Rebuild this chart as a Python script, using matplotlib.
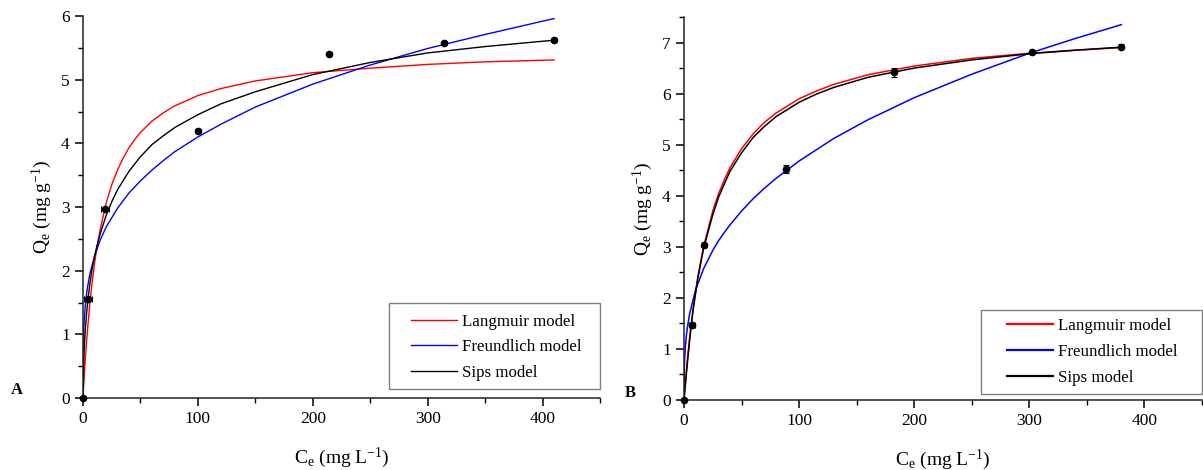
import matplotlib
matplotlib.use('Agg')
import matplotlib.pyplot as plt
from matplotlib.patches import Rectangle
from matplotlib.ticker import MultipleLocator

plt.rcParams['font.family'] = ['Liberation Serif', 'DejaVu Serif']
plt.rcParams['mathtext.fontset'] = 'custom'
plt.rcParams['mathtext.rm'] = 'Liberation Serif'
plt.rcParams['mathtext.it'] = 'Liberation Serif:italic'

# ---- panel A data ----
ce_a = [0, 4, 19, 100, 214, 314, 410]
qe_a = [0, 1.55, 2.97, 4.19, 5.41, 5.57, 5.62]
xerr_a = [0, 3.5, 3.5, 0, 0, 0, 0]
yerr_a = [0, 0, 0, 0.03, 0.03, 0.03, 0.03]

c_lang_a = [0, 0.5, 1, 2, 3, 4, 6, 8, 10, 12, 15, 20, 25, 30, 35, 40, 45, 50, 60, 70, 80,
            100, 120, 150, 200, 250, 300, 350, 410]
q_lang_a = [0, 0.17, 0.32, 0.61, 0.86, 1.09, 1.49, 1.82, 2.11, 2.35, 2.65, 3.05, 3.35,
            3.58, 3.77, 3.93, 4.06, 4.17, 4.35, 4.48, 4.59, 4.75, 4.86, 4.98, 5.11, 5.18,
            5.24, 5.28, 5.31]

c_freu_a = [0, 0.02, 0.1, 0.5, 1, 2, 3, 4, 6, 10, 15, 20, 30, 40, 50, 60, 70, 80, 100,
            120, 150, 200, 250, 300, 350, 410]
q_freu_a = [0, 0.43, 0.66, 1.01, 1.21, 1.45, 1.62, 1.75, 1.95, 2.23, 2.48, 2.68, 2.98,
            3.22, 3.41, 3.58, 3.73, 3.87, 4.10, 4.30, 4.57, 4.93, 5.23, 5.49, 5.71, 5.96]

c_sips_a = [0, 0.5, 1, 2, 3, 4, 6, 8, 10, 12, 15, 20, 25, 30, 40, 50, 60, 70, 80, 100,
            120, 150, 200, 250, 300, 350, 410]
q_sips_a = [0, 0.45, 0.75, 1.08, 1.30, 1.50, 1.80, 2.03, 2.22, 2.38, 2.58, 2.86, 3.08,
            3.27, 3.56, 3.79, 3.98, 4.12, 4.25, 4.45, 4.62, 4.81, 5.08, 5.27, 5.42, 5.52,
            5.62]

# ---- panel B data ----
ce_b = [0, 7.2, 17.4, 89, 182, 302, 380]
qe_b = [0, 1.46, 3.03, 4.53, 6.42, 6.81, 6.92]
xerr_b = [0, 2.5, 2, 0, 0, 0, 0]
yerr_b = [0, 0.03, 0.03, 0.08, 0.09, 0.03, 0.05]

c_lang_b = [0, 1, 2, 3, 5, 8, 12, 17, 25, 30, 35, 40, 50, 60, 70, 80, 100, 115, 130, 160,
            200, 250, 300, 340, 380]
q_lang_b = [0, 0.29, 0.55, 0.80, 1.24, 1.80, 2.41, 3.00, 3.70, 4.04, 4.31, 4.55, 4.92,
            5.21, 5.44, 5.62, 5.90, 6.05, 6.18, 6.37, 6.54, 6.69, 6.79, 6.85, 6.90]

c_freu_b = [0, 0.02, 0.1, 0.5, 1, 2, 3, 5, 10, 17, 25, 30, 35, 40, 50, 60, 70, 80, 100,
            130, 160, 200, 250, 300, 340, 380]
q_freu_b = [0, 0.26, 0.45, 0.78, 0.99, 1.25, 1.43, 1.70, 2.15, 2.57, 2.93, 3.12, 3.28,
            3.43, 3.70, 3.94, 4.15, 4.34, 4.68, 5.12, 5.49, 5.92, 6.38, 6.79, 7.08, 7.35]

c_sips_b = [0, 1, 2, 3, 5, 8, 12, 17, 25, 30, 35, 40, 50, 60, 70, 80, 100, 115, 130, 160,
            200, 250, 300, 340, 380]
q_sips_b = [0, 0.25, 0.50, 0.74, 1.20, 1.78, 2.38, 2.97, 3.63, 3.97, 4.23, 4.48, 4.84,
            5.14, 5.36, 5.55, 5.83, 5.99, 6.12, 6.32, 6.50, 6.66, 6.78, 6.85, 6.91]

labels = ['Langmuir model', 'Freundlich model', 'Sips model']

W, H = 1203, 470
fig = plt.figure(figsize=(W / 100, H / 100), dpi=100)
ax_a = fig.add_axes([83 / W, 1 - 398 / H, 517 / W, 382 / H])
ax_b = fig.add_axes([684 / W, 1 - 400 / H, 518 / W, 383 / H])


def style(ax, ymax):
    ax.set_xlim(0, 450)
    ax.set_ylim(0, ymax)
    for s in ['top', 'right']:
        ax.spines[s].set_visible(False)
    for s in ['left', 'bottom']:
        ax.spines[s].set_linewidth(1.1)
        ax.spines[s].set_color('#222222')
    ax.xaxis.set_major_locator(MultipleLocator(100))
    ax.xaxis.set_minor_locator(MultipleLocator(50))
    ax.yaxis.set_major_locator(MultipleLocator(1))
    ax.yaxis.set_minor_locator(MultipleLocator(0.5))
    ax.tick_params(which='major', direction='out', length=6, width=1.1, labelsize=12.5, pad=3.5)
    ax.tick_params(which='minor', direction='out', length=3.5, width=1.0)
    ax.set_xlabel(r'C$_\mathrm{e}$ (mg L$^\mathrm{-1}$)', fontsize=14, labelpad=13)
    ax.set_ylabel(r'Q$_\mathrm{e}$ (mg g$^\mathrm{-1}$)', fontsize=14, labelpad=5)


def add_legend(handles, box, anchor, lw, spacing):
    # box and anchor in pixels from the top-left corner
    x0, y0, x1, y1 = box
    fig.add_artist(Rectangle((x0 / W, 1 - y1 / H), (x1 - x0) / W, (y1 - y0) / H,
                             transform=fig.transFigure, facecolor='white',
                             edgecolor='#808080', lw=1.0, zorder=3))
    leg = fig.legend(handles, labels, loc='upper left',
                     bbox_to_anchor=(anchor[0] / W, 1 - anchor[1] / H),
                     bbox_transform=fig.transFigure, frameon=False, fontsize=12.2,
                     handlelength=2.7, handletextpad=0.3, labelspacing=spacing,
                     borderpad=0, borderaxespad=0)
    leg.set_zorder(4)
    for line in leg.get_lines():
        line.set_linewidth(lw)


# panel A
ha = [ax_a.plot(c_lang_a, q_lang_a, color='red', lw=1.0)[0],
      ax_a.plot(c_freu_a, q_freu_a, color='blue', lw=1.0)[0],
      ax_a.plot(c_sips_a, q_sips_a, color='black', lw=1.0)[0]]
ax_a.errorbar(ce_a, qe_a, xerr=xerr_a, yerr=yerr_a, fmt='o', color='black', ms=4.5,
              elinewidth=0.8, capsize=2.5, capthick=0.8, clip_on=False, zorder=5)
style(ax_a, 6)
add_legend(ha, (389, 303, 600, 389), (411, 314), 1.0, 0.55)

# panel B
hb = [ax_b.plot(c_lang_b, q_lang_b, color='red', lw=1.1)[0],
      ax_b.plot(c_freu_b, q_freu_b, color='blue', lw=1.1)[0],
      ax_b.plot(c_sips_b, q_sips_b, color='black', lw=1.1)[0]]
ax_b.errorbar(ce_b, qe_b, xerr=xerr_b, yerr=yerr_b, fmt='o', color='black', ms=4.5,
              elinewidth=0.8, capsize=2.5, capthick=0.8, clip_on=False, zorder=5)
style(ax_b, 7.5)
add_legend(hb, (981, 310, 1202, 394), (1007, 318), 1.6, 0.6)

fig.text(11 / W, 1 - 394 / H, 'A', fontsize=12, fontweight='bold')
fig.text(625 / W, 1 - 397 / H, 'B', fontsize=12, fontweight='bold')

fig.savefig('out.png', dpi=100)
